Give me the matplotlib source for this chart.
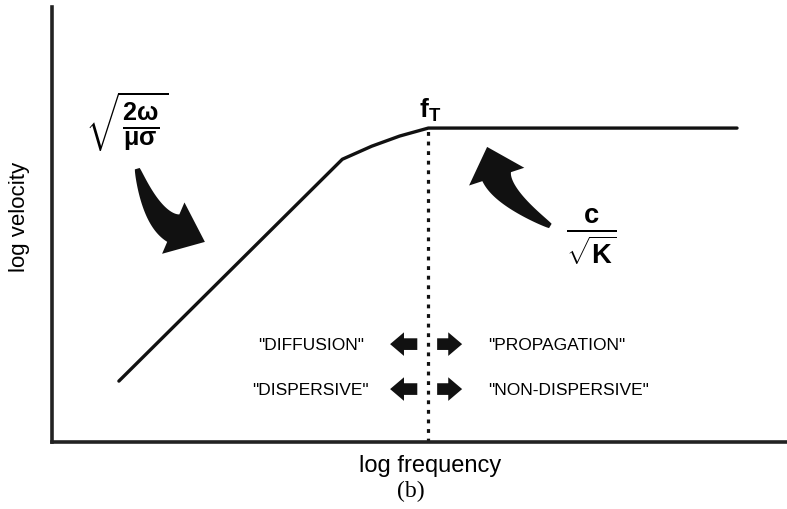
import matplotlib
matplotlib.use("Agg")
import matplotlib.pyplot as plt
import numpy as np
from matplotlib.patches import FancyArrowPatch, Polygon
from matplotlib.transforms import IdentityTransform

plt.rcParams["font.family"] = ["Liberation Sans", "DejaVu Sans"]
plt.rcParams["mathtext.fontset"] = "custom"
plt.rcParams["mathtext.rm"] = "Liberation Sans"
plt.rcParams["mathtext.bf"] = "Liberation Sans:bold"
plt.rcParams["mathtext.it"] = "Liberation Sans:bold"

# schematic velocity-frequency curve (arbitrary log units)
log_f = [0.91, 3.95, 4.35, 4.73, 5.12, 9.32]
log_v = [0.84, 3.90, 4.08, 4.22, 4.33, 4.33]
f_t = 5.12            # transition frequency
v_t = 4.33            # plateau velocity

left_labels = ['"DIFFUSION"', '"DISPERSIVE"']
right_labels = ['"PROPAGATION"', '"NON-DISPERSIVE"']
label_rows = [1.35, 0.73]


def curved_arrow(ax, tail, ctrl, base, tip, w_tail=5, w_body=30, w_head=56):
    """Tapered bezier arrow; widths in pixels."""
    T = ax.transData.transform
    p0, p1, p2, pt = (np.asarray(T(p), float) for p in (tail, ctrl, base, tip))
    t = np.linspace(0, 1, 50)[:, None]
    pts = (1 - t) ** 2 * p0 + 2 * (1 - t) * t * p1 + t ** 2 * p2
    der = 2 * (1 - t) * (p1 - p0) + 2 * t * (p2 - p1)
    nrm = np.column_stack([-der[:, 1], der[:, 0]])
    nrm /= np.linalg.norm(nrm, axis=1)[:, None]
    half = (w_tail + (w_body - w_tail) * t ** 0.8) / 2
    side_a = pts + nrm * half
    side_b = pts - nrm * half
    d = (pt - p2) / np.linalg.norm(pt - p2)
    n = np.array([-d[1], d[0]])
    if np.dot(n, nrm[-1]) < 0:
        n = -n
    poly = np.vstack([side_a, p2 + n * w_head / 2, pt, p2 - n * w_head / 2,
                      side_b[::-1]])
    ax.add_patch(Polygon(poly, closed=True, transform=IdentityTransform(),
                         color="#111111", lw=0))


fig = plt.figure(figsize=(7.87, 5.10), dpi=100)
ax = fig.add_axes([52 / 787, 67 / 510, 735 / 787, 435 / 510])
ax.set_xlim(0, 10)
ax.set_ylim(0, 6)

for s in ["top", "right"]:
    ax.spines[s].set_visible(False)
for s in ["left", "bottom"]:
    ax.spines[s].set_linewidth(2.6)
    ax.spines[s].set_color("#222222")
ax.set_xticks([])
ax.set_yticks([])

ax.plot(log_f, log_v, color="#111111", lw=2.4, solid_capstyle="round")
ax.plot([f_t, f_t], [0, v_t], color="#111111", lw=2.3, ls=(0, (1.2, 1.8)))

ax.text(f_t + 0.03, v_t + 0.07, r"$\mathbf{f}_{\mathbf{T}}$", fontsize=19,
        ha="center", va="bottom")

# formulas for the two asymptotes
ax.text(0.45, 4.43, r"$\sqrt{\frac{\mathbf{2\omega}}{\mathbf{\mu\sigma}}}$",
        fontsize=26, ha="left", va="center")
ax.text(7.0, 2.85, r"$\frac{\mathbf{c}}{\sqrt{\mathbf{K}}}$",
        fontsize=28, ha="left", va="center")

# curved pointers toward the two branches
curved_arrow(ax, (1.16, 3.77), (1.36, 3.08), (1.65, 2.95), (2.08, 2.76))
curved_arrow(ax, (6.78, 2.98), (6.14, 3.37), (6.05, 3.66), (5.92, 4.07),
             w_head=58)

# regime labels either side of the transition
small = "simple,head_length=0.5,head_width=0.85,tail_width=0.42"
for lab_l, lab_r, y in zip(left_labels, right_labels, label_rows):
    ax.text(3.52, y, lab_l, fontsize=12.5, ha="center", va="center")
    ax.text(5.93, y, lab_r, fontsize=12.5, ha="left", va="center")
    ax.add_patch(FancyArrowPatch((4.97, y), (4.6, y), arrowstyle=small,
                                 mutation_scale=20, shrinkA=0, shrinkB=0,
                                 color="#111111", lw=0))
    ax.add_patch(FancyArrowPatch((5.24, y), (5.58, y), arrowstyle=small,
                                 mutation_scale=20, shrinkA=0, shrinkB=0,
                                 color="#111111", lw=0))

fig.text(20 / 787, 1 - 217 / 510, "log velocity", rotation=90, fontsize=16,
         ha="center", va="center")
fig.text(430 / 787, 1 - 466 / 510, "log frequency", fontsize=17,
         ha="center", va="center")
fig.text(411 / 787, 1 - 491 / 510, "(b)", fontsize=17, family="Liberation Serif",
         ha="center", va="center")

fig.savefig("out.png", dpi=100)
